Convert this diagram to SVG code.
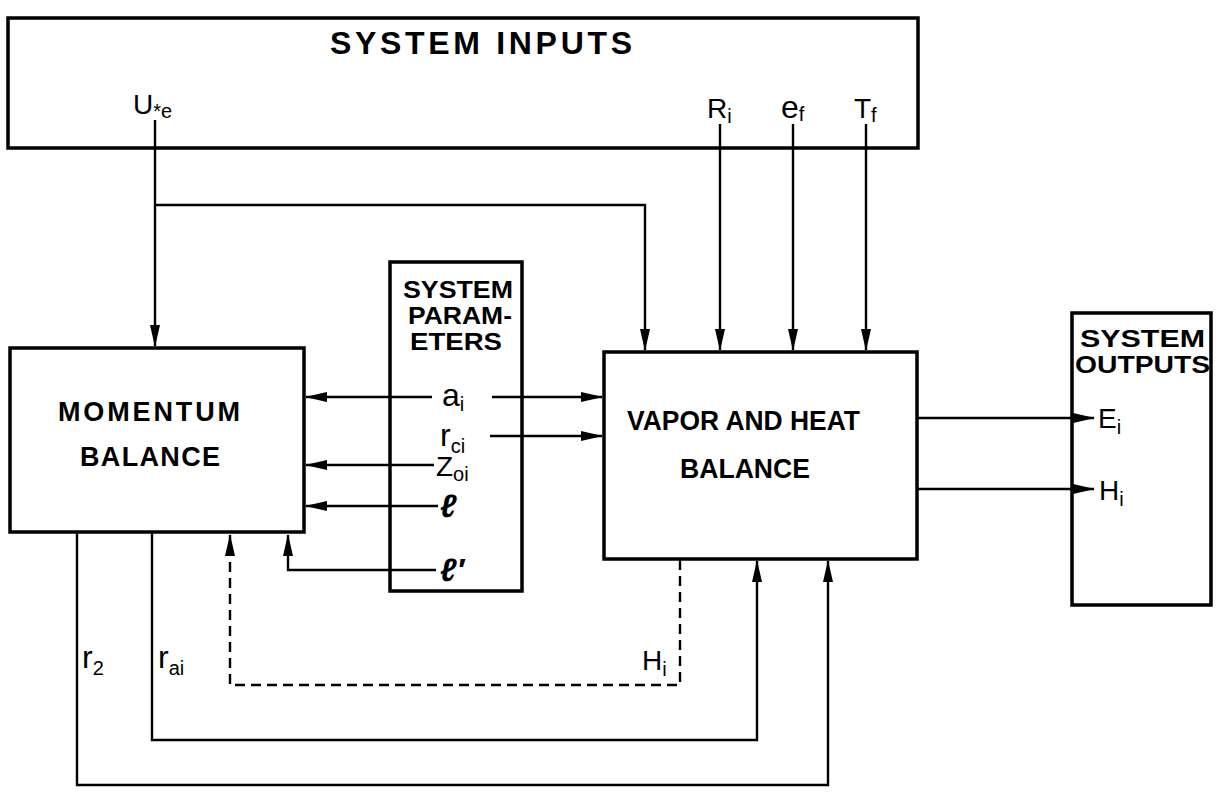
<svg xmlns="http://www.w3.org/2000/svg" width="1218" height="800" viewBox="0 0 1218 800">
<style>
.box{fill:none;stroke:#000;stroke-width:3.5}
.ln{fill:none;stroke:#000;stroke-width:2.4}
.dash{fill:none;stroke:#000;stroke-width:2.4;stroke-dasharray:10,6}
.t{font-family:"Liberation Sans",Arial,sans-serif;font-weight:bold;font-size:27px;fill:#000}
.ti{font-family:"Liberation Sans",Arial,sans-serif;font-weight:bold;font-size:32px;fill:#000}
.p{font-family:"Liberation Sans",Arial,sans-serif;font-weight:bold;font-size:24px;fill:#000}
.v{font-family:"Liberation Sans",Arial,sans-serif;font-size:28px;fill:#000}
.w{font-family:"Liberation Sans",Arial,sans-serif;font-size:32px;fill:#000}
.s{font-size:20px}
</style>
<defs>
<marker id="ah" markerWidth="22" markerHeight="10" refX="21" refY="5" orient="auto" markerUnits="userSpaceOnUse">
<path d="M0,0 L22,5 L0,10 Z" fill="#000"/>
</marker>
</defs>
<rect width="1218" height="800" fill="#fff"/>

<g id="inputs">
<rect class="box" x="8" y="18" width="910" height="130"/>
<text class="ti" x="330" y="54" textLength="302" lengthAdjust="spacing">SYSTEM  INPUTS</text>
<text class="v" x="133" y="114">U<tspan class="s" dy="4">*e</tspan></text>
<text class="v" x="707" y="118">R<tspan class="s" dy="5">i</tspan></text>
<text class="w" x="781" y="118">e<tspan class="s" dy="3">f</tspan></text>
<text class="v" x="854" y="118">T<tspan class="s" dy="4">f</tspan></text>
</g>

<g id="momentum">
<rect class="box" x="10" y="348" width="294" height="184"/>
<text class="t" x="58" y="421" textLength="182" lengthAdjust="spacing">MOMENTUM</text>
<text class="t" x="80" y="466" textLength="140" lengthAdjust="spacing">BALANCE</text>
</g>

<g id="parameters">
<rect class="box" x="390" y="262" width="132" height="329"/>
<text class="p" x="403" y="298" textLength="110" lengthAdjust="spacingAndGlyphs">SYSTEM</text>
<text class="p" x="408" y="324" textLength="104" lengthAdjust="spacingAndGlyphs">PARAM-</text>
<text class="p" x="410" y="350" textLength="92" lengthAdjust="spacingAndGlyphs">ETERS</text>
<text class="w" x="442" y="406">a<tspan class="s" dy="5">i</tspan></text>
<text class="w" x="440" y="446">r<tspan class="s" dy="7">ci</tspan></text>
<text class="v" x="436" y="476">Z<tspan class="s" dy="5">oi</tspan></text>
<text class="w" x="440" y="517" font-style="italic" font-weight="bold">ℓ</text>
<text class="w" x="440" y="581" font-style="italic" font-weight="bold">ℓ′</text>
</g>

<g id="vapor">
<rect class="box" x="604" y="352" width="313" height="207"/>
<text class="t" x="627" y="430" textLength="233" lengthAdjust="spacingAndGlyphs">VAPOR AND HEAT</text>
<text class="t" x="680" y="478" textLength="130" lengthAdjust="spacingAndGlyphs">BALANCE</text>
</g>

<g id="outputs">
<rect class="box" x="1072" y="313" width="139" height="292"/>
<text class="p" x="1080" y="347" textLength="125" lengthAdjust="spacingAndGlyphs">SYSTEM</text>
<text class="p" x="1075" y="373" textLength="135" lengthAdjust="spacingAndGlyphs">OUTPUTS</text>
<text class="v" x="1098" y="428">E<tspan class="s" dy="6">i</tspan></text>
<text class="v" x="1099" y="500">H<tspan class="s" dy="6">i</tspan></text>
</g>

<g id="connectors">
<path class="ln" d="M155,120 V346" marker-end="url(#ah)"/>
<path class="ln" d="M155,205 H645 V350" marker-end="url(#ah)"/>
<path class="ln" d="M720,124 V350" marker-end="url(#ah)"/>
<path class="ln" d="M793,124 V350" marker-end="url(#ah)"/>
<path class="ln" d="M866,124 V350" marker-end="url(#ah)"/>
<path class="ln" d="M432,397 H306" marker-end="url(#ah)"/>
<path class="ln" d="M492,397 H602" marker-end="url(#ah)"/>
<path class="ln" d="M490,436 H602" marker-end="url(#ah)"/>
<path class="ln" d="M434,465 H306" marker-end="url(#ah)"/>
<path class="ln" d="M438,506 H306" marker-end="url(#ah)"/>
<path class="ln" d="M436,570 H288 V535" marker-end="url(#ah)"/>
<path class="ln" d="M917,418 H1094" marker-end="url(#ah)"/>
<path class="ln" d="M917,489 H1094" marker-end="url(#ah)"/>
<path class="ln" d="M77,532 V785 H828 V561" marker-end="url(#ah)"/>
<path class="ln" d="M152,532 V740 H757 V561" marker-end="url(#ah)"/>
<path class="dash" d="M680,560 V685 H230 V535" marker-end="url(#ah)"/>
<text class="w" x="82" y="668">r<tspan class="s" dy="7">2</tspan></text>
<text class="w" x="158" y="668">r<tspan class="s" dy="7">ai</tspan></text>
<text class="v" x="642" y="670">H<tspan class="s" dy="6">i</tspan></text>
</g>
</svg>
